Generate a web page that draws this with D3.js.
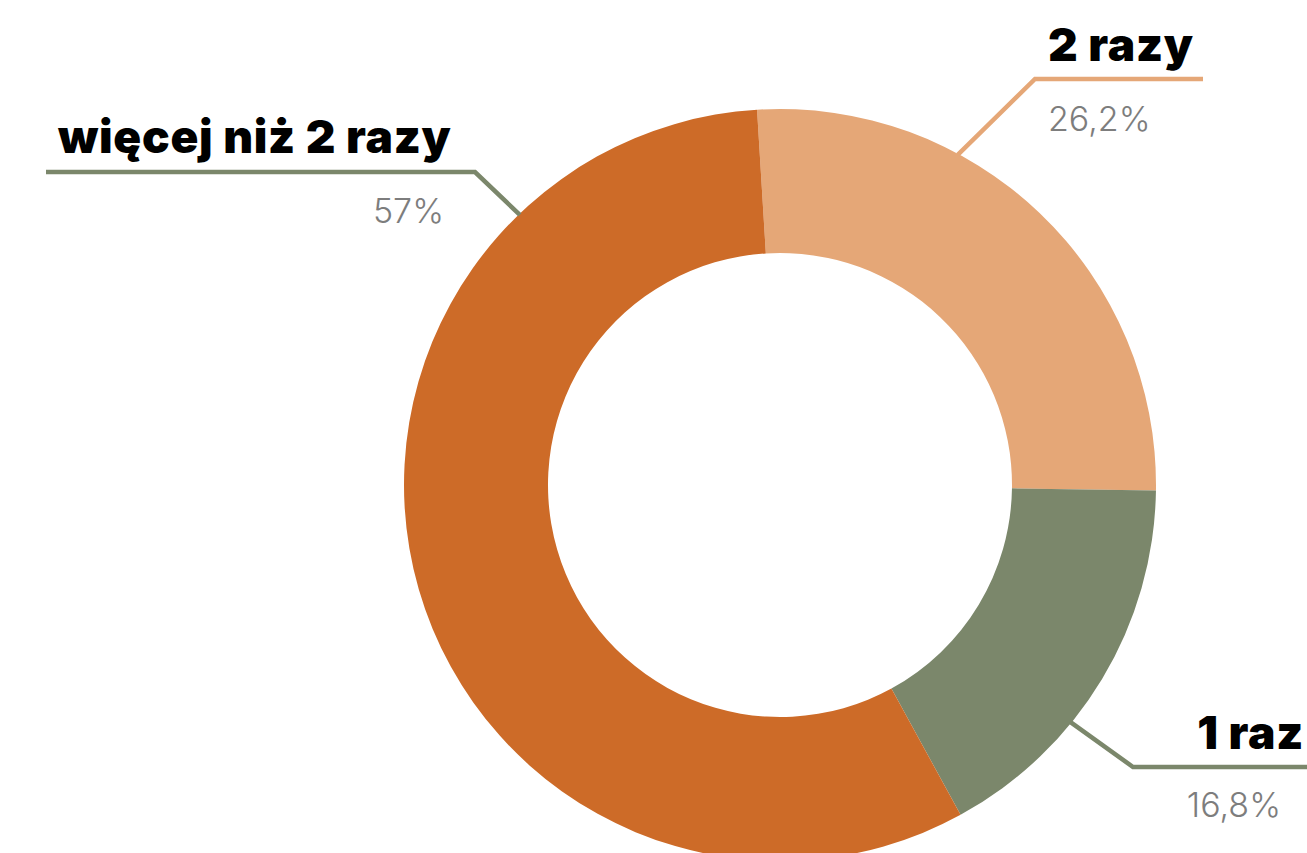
<!DOCTYPE html>
<html>
<head>
<meta charset="utf-8">
<script src="https://cdn.jsdelivr.net/npm/d3@7"></script>
<style>
  html, body { margin: 0; padding: 0; background: #fff; }
  svg { display: block; }
  .name { font-family: "Inter", sans-serif; font-weight: 900; font-size: 46px; letter-spacing: 0.7px; fill: #000; }
  .pct { font-family: "Inter", sans-serif; font-weight: 300; font-size: 34px; fill: #7d7d7d; }
</style>
</head>
<body>
<svg id="chart"></svg>
<script>
// data
const categories = ["2 razy", "1 raz", "więcej niż 2 razy"];
const values = [26.2, 16.8, 57];
const valueLabels = ["26,2%", "16,8%", "57%"];

// colours
const sliceColors = ["#E5A777", "#7B876B", "#CD6B28"];
const leaderColors = ["#E5A777", "#7B876B", "#7B876B"];

// label layout (where the leader leaves the ring, elbow, end, text spots)
const labelLayout = [
  { frac: 0.337, elbow: [1035, 79], endX: 1203, name: [1048, 61, "start"], pct: [1048, 131, "start"] },
  { frac: 0.635, elbow: [1133, 767], endX: 1310, name: [1304, 749, "end"], pct: [1281, 817, "end"] },
  { frac: 0.803, elbow: [475, 172], endX: 46, name: [58, 153, "start"], pct: [444, 223, "end"] }
];

const width = 1307, height = 853;
const cx = 780, cy = 485;
const outerR = 376, innerR = 232;
const offset = -3.5 * Math.PI / 180;

const svg = d3.select("#chart")
  .attr("width", width)
  .attr("height", height);

const pie = d3.pie()
  .sort(null)
  .startAngle(offset)
  .endAngle(offset + 2 * Math.PI);

const arcs = pie(values);

const arc = d3.arc()
  .innerRadius(innerR)
  .outerRadius(outerR);

const ring = svg.append("g")
  .attr("transform", `translate(${cx},${cy})`);

ring.selectAll("path")
  .data(arcs)
  .join("path")
  .attr("fill", (d, i) => sliceColors[i])
  .attr("d", arc);

// leader lines
svg.append("g").selectAll("polyline")
  .data(arcs)
  .join("polyline")
  .attr("fill", "none")
  .attr("stroke", (d, i) => leaderColors[i])
  .attr("stroke-width", 4.5)
  .attr("points", (d, i) => {
    const L = labelLayout[i];
    const a = d.startAngle + L.frac * (d.endAngle - d.startAngle);
    const p = d3.pointRadial(a, outerR - 1);
    return [[cx + p[0], cy + p[1]], L.elbow, [L.endX, L.elbow[1]]].join(" ");
  });

// category names
svg.append("g").selectAll("text")
  .data(categories)
  .join("text")
  .attr("class", "name")
  .attr("x", (d, i) => labelLayout[i].name[0])
  .attr("y", (d, i) => labelLayout[i].name[1])
  .attr("text-anchor", (d, i) => labelLayout[i].name[2])
  .text(d => d);

// percentages
svg.append("g").selectAll("text")
  .data(valueLabels)
  .join("text")
  .attr("class", "pct")
  .attr("x", (d, i) => labelLayout[i].pct[0])
  .attr("y", (d, i) => labelLayout[i].pct[1])
  .attr("text-anchor", (d, i) => labelLayout[i].pct[2])
  .text(d => d);
</script>
</body>
</html>
